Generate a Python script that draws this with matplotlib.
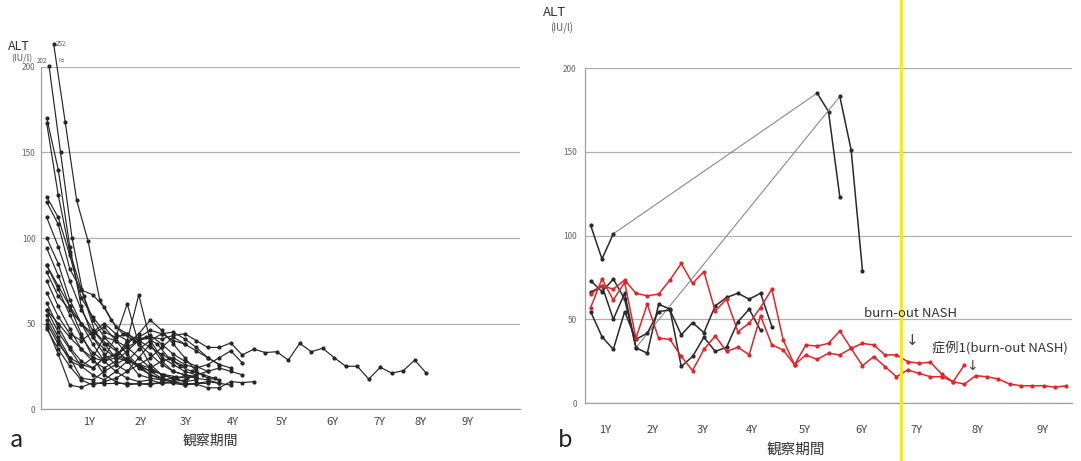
import matplotlib
matplotlib.use('Agg')
import matplotlib.pyplot as plt
import numpy as np
from matplotlib.lines import Line2D

plt.rcParams['font.family'] = ['Noto Sans CJK JP', 'DejaVu Sans']

# ---- data -------------------------------------------------------------
year_labels = ['1Y', '2Y', '3Y', '4Y', '5Y', '6Y', '7Y', '8Y', '9Y']
a_tick_pos = [4.17, 8.70, 12.61, 16.70, 20.96, 25.30, 29.39, 33.04, 37.13]
b_tick_pos = [1.77, 6.00, 10.41, 14.74, 19.42, 24.45, 29.30, 34.69, 40.42]

# panel a: one entry per patient, quarterly values, first visit offset
a_start = [0.2, 0.6, 0, 0, 0, 0, 0, 0, 0, 0, 0, 0, 0, 0, 0, 0, 0, 0, 0, 0, 0, 0]
a_values = [
    [202, 150, 100, 66, 45, 38, 33, 28, 24, 22, 20, 19, 18],
    [252, 168, 122, 98, 64, 52, 44, 40, 42, 38, 30, 25, 22, 20, 18],
    [170, 140, 95, 60, 42, 32, 26, 22, 26, 30, 36, 42, 38, 34, 30, 26],
    [167, 125, 92, 70, 52, 42, 40, 36, 30, 24, 20, 18, 16, 17],
    [124, 112, 90, 65, 54, 45, 42, 44, 38, 32, 26, 22, 20, 18, 17, 15],
    [121, 108, 82, 69.6, 66.8, 59.6, 48, 44, 40, 36, 32, 28, 25],
    [112, 95, 75, 58, 46, 38, 30, 28, 35, 40, 44, 45, 41, 36, 30, 26, 24],
    [100, 85, 64, 50, 38, 28, 22, 18, 16, 17, 15, 16, 14, 15, 16, 15, 14],
    [94, 78, 60, 44, 30, 20, 16, 14, 15, 14, 16, 15, 14, 15, 15],
    [84, 70, 55, 42, 33, 28, 30, 38, 44, 52, 46, 38, 30, 22, 18, 17],
    [80, 66, 58, 50, 42, 35, 30, 40, 66.7, 40, 30, 26, 22, 20],
    [48, 32, 14, 12.7, 15.4, 14.8, 15, 15, 14.5, 15, 15, 15.5, 15, 14.5, 12.4, 12.4, 16, 15.4, 16],
    [58, 50, 42, 35, 30, 28, 32, 36, 40, 42, 41, 43, 44, 40, 36, 36, 38.6, 31.6, 35, 33, 33.5,
     28.6, 38.4, 33.5, 35.5, 30, 25, 25, 17.5, 24.4, 21, 22.4, 28.6, 21],
    [75, 60, 47, 35, 28, 24, 28, 34, 40, 43, 38, 32, 28, 25, 22, 24, 22, 20],
    [62, 48, 36, 28, 24, 30, 32, 28, 26, 24, 28, 30, 26, 24, 26, 30, 34, 27],
    [58, 45, 35, 25, 20, 17, 22, 28, 26, 22, 18, 16, 17, 20, 22],
    [55, 42, 30, 18, 17, 22, 26, 30, 24, 20, 17, 16, 20, 18],
    [52, 40, 28, 25, 30, 42, 35, 28, 20, 18, 17, 18, 16],
    [50, 38, 30, 26, 24, 30, 42, 61.4, 38, 26, 20, 18],
    [47, 35, 25, 17, 14, 16, 18, 22, 30, 38, 28, 22, 20, 19],
    [68, 54, 44, 40, 45, 50, 44, 40, 42, 46, 44, 40, 38],
    [84, 72, 60, 50, 44, 48, 40, 32, 25, 20, 18, 16],
]

# panel b: black = other cases, red = burn-out NASH; None = no visit
b_black = [
    [106, 86, 101] + [None] * 17 + [185, 174, 123],
    [66, 70, 50, 65.5, 33] + [None] * 17 + [183, 151, 79],
    [73, 66.5, 74, 62, 33, 29.7, 59, 56, 21.8, 27.8, 39.3, 30.8, 33.3, 48.5, 56, 43.3],
    [54.5, 39.6, 32, 54.5, 38, 41.7, 54.6, 55.5, 40.7, 48, 42, 58, 63, 65.5, 62, 65.5, 45.6],
]
b_red = [
    [65, 70, 68, 73.4, 65.5, 64, 65, 73.4, 83.3, 71.4, 78.4, 55, 62, 42.6, 47.6, 57, 68, 37.7,
     22.8, 34.6, 34, 35.6, 43, 32.6, 22.3, 27.7, 21.7, 15.7, 19.7, 17.7, 15.7, 15.7, 12.7, 11.3,
     16.3, 15.7, 14.3, 11.3, 10.3, 10.3, 10.3, 9.4, 10.3],
    [57, 74, 61.5, 72, 38.7, 59, 38.7, 38, 27.8, 19.4, 32, 40, 30.8, 33.3, 28.8, 52, 34.7, 31.7,
     22.8, 28.7, 26, 29.7, 28.7, 32.6, 35.6, 34.6, 28.7, 28.7, 24.7, 23.7, 24.3, 17.3, 12.7, 22.7],
]

W, H = 1081, 461
fig = plt.figure(figsize=(W / 100, H / 100), dpi=100)


def fx(px):
    return px / W


def fy(py):
    return 1 - py / H


ax_a = fig.add_axes([fx(41), fy(409), fx(520) - fx(41), fy(67) - fy(409)])
ax_b = fig.add_axes([fx(585), fy(403), fx(1072) - fx(585), fy(68) - fy(403)])


def style(ax, xmax, ticks, xpad, ypad):
    ax.set_xlim(0, xmax)
    ax.set_ylim(0, 200)
    ax.set_yticks([0, 50, 100, 150, 200])
    ax.set_yticklabels(['0', '50', '100', '150', '200'], fontsize=6, color='#666666')
    ax.yaxis.grid(True, color='#b0b0b0', lw=0.9)
    ax.set_axisbelow(True)
    for s in ['top', 'right']:
        ax.spines[s].set_visible(False)
    for s in ['left', 'bottom']:
        ax.spines[s].set_color('#a0a0a0')
        ax.spines[s].set_linewidth(0.9)
    ax.tick_params(axis='y', length=0, pad=ypad)
    ax.set_xticks(ticks)
    ax.set_xticklabels(year_labels, fontsize=8, color='#444444')
    ax.tick_params(axis='x', length=0, pad=xpad)


style(ax_a, 41.65, a_tick_pos, 6, 4)
style(ax_b, 43, b_tick_pos, 16, 6)

# panel a
for st, vals in zip(a_start, a_values):
    v = np.array(vals, dtype=float)
    shown = np.where(v > 200, 200 + (v - 200) * 0.26, v)
    x = st + np.arange(len(v)) + 0.5
    ax_a.plot(x, shown, color='#262626', lw=0.85, marker='o', ms=2.0, clip_on=False)


# panel b
def draw_b(ax, vals, color):
    v = np.array([np.nan if a is None else a for a in vals], dtype=float)
    x = np.arange(len(v)) + 0.5
    ok = np.where(~np.isnan(v))[0]
    for i, j in zip(ok[:-1], ok[1:]):
        if j - i > 1:
            ax.plot([x[i], x[j]], [v[i], v[j]], color='#8a8a8a', lw=0.8)
    ax.plot(x, v, color=color, lw=1.1, marker='o', ms=2.0)


for vals in b_black:
    draw_b(ax_b, vals, '#2a2a2a')
for vals in b_red:
    draw_b(ax_b, vals, '#e0262a')

# texts
fig.text(fx(8), fy(46), 'ALT', fontsize=9, color='#333333', va='center')
fig.text(fx(11), fy(59), '(IU/l)', fontsize=6.5, color='#555555', va='center')
fig.text(fx(37), fy(61), '202', fontsize=4.5, color='#555555', va='center')
fig.text(fx(56), fy(44), '252', fontsize=4.5, color='#555555', va='center')
fig.text(fx(57), fy(61), '≈', fontsize=5, color='#555555', va='center')
fig.text(fx(16), fy(440), 'a', fontsize=17, color='#222222', ha='center', va='center')
fig.text(fx(210), fy(441), '観察期間', fontsize=10, color='#333333', ha='center', va='center')

fig.text(fx(543), fy(13), 'ALT', fontsize=9.5, color='#333333', va='center')
fig.text(fx(550), fy(28), '(IU/l)', fontsize=7, color='#555555', va='center')
fig.text(fx(565), fy(440), 'b', fontsize=17, color='#222222', ha='center', va='center')
fig.text(fx(796), fy(450), '観察期間', fontsize=10.5, color='#333333', ha='center', va='center')

fig.text(fx(911), fy(313), 'burn-out NASH', fontsize=9.5, color='#333333', ha='center', va='center')
fig.text(fx(912), fy(340), '↓', fontsize=11, color='#444444', ha='center', va='center',
         family='DejaVu Sans')
fig.text(fx(1000), fy(348), '症例1(burn-out NASH)', fontsize=9.5, color='#333333',
         ha='center', va='center')
fig.text(fx(972), fy(366), '↓', fontsize=10, color='#444444', ha='center', va='center',
         family='DejaVu Sans')

# yellow marker line
fig.add_artist(Line2D([fx(901), fx(901)], [0, 1], color='#f7ee00', lw=2.3))

fig.savefig('out.png', dpi=100, facecolor='white')
